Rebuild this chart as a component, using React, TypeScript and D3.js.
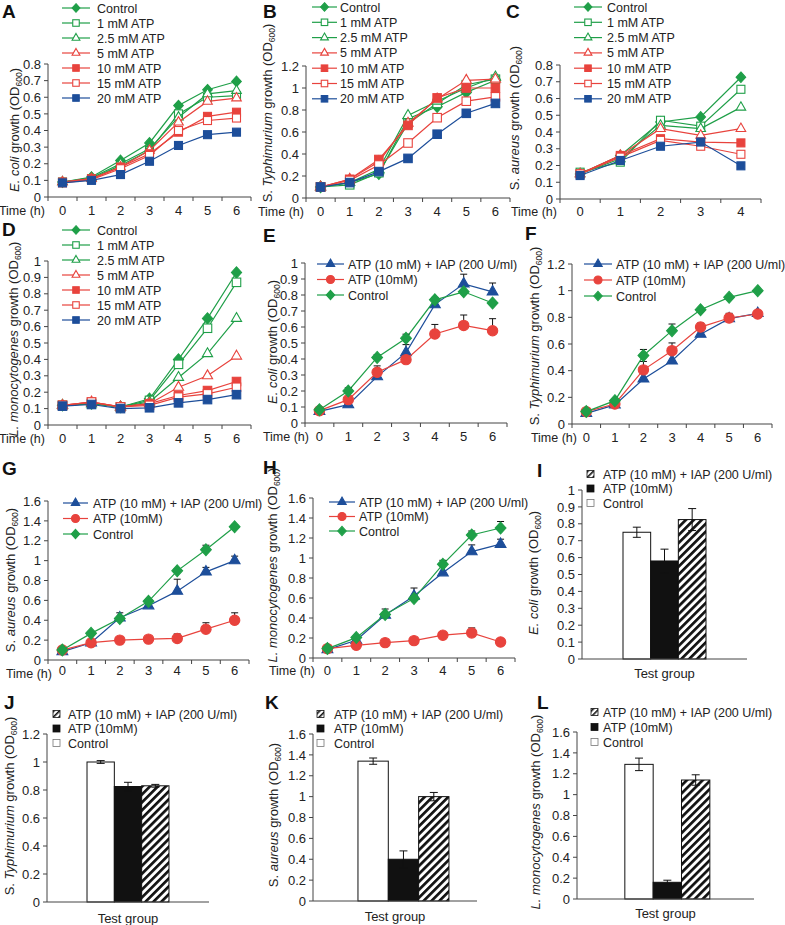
import React from "react";
import * as d3 from "d3";

const FONT = '"Liberation Sans", Arial, Helvetica, sans-serif';
const GREEN = "#1f9f48";
const RED = "#e8433d";
const BLUE = "#1d4e9a";
const AXIS = "#444";
const TXT = "#222";

// ---------- categories / names ----------
const hours7 = ["0", "1", "2", "3", "4", "5", "6"];
const hours5 = ["0", "1", "2", "3", "4"];
const doseNames = ["Control", "1 mM ATP", "2.5 mM ATP", "5 mM ATP", "10 mM ATP", "15 mM ATP", "20 mM ATP"];
const treatNames = ["ATP (10 mM) + IAP (200 U/ml)", "ATP (10mM)", "Control"];
const barOrder = ["Control", "ATP (10mM)", "ATP (10 mM) + IAP (200 U/ml)"];
const testGroup = ["Test group"];

// ---------- A: E. coli, ATP doses ----------
const aControl = [0.09, 0.12, 0.22, 0.325, 0.55, 0.645, 0.695];
const a1mM = [0.09, 0.11, 0.19, 0.28, 0.5, 0.6, 0.61];
const a25mM = [0.09, 0.115, 0.2, 0.29, 0.48, 0.62, 0.64];
const a5mM = [0.09, 0.11, 0.18, 0.28, 0.45, 0.575, 0.595];
const a10mM = [0.09, 0.11, 0.18, 0.26, 0.39, 0.485, 0.51];
const a15mM = [0.085, 0.105, 0.17, 0.25, 0.4, 0.46, 0.475];
const a20mM = [0.085, 0.1, 0.135, 0.215, 0.31, 0.375, 0.39];

// ---------- B: S. Typhimurium, ATP doses ----------
const bControl = [0.1, 0.14, 0.22, 0.72, 0.83, 0.96, 1.07];
const b1mM = [0.1, 0.12, 0.23, 0.68, 0.86, 1.03, 1.08];
const b25mM = [0.1, 0.14, 0.26, 0.75, 0.88, 1.0, 1.1];
const b5mM = [0.1, 0.17, 0.33, 0.68, 0.9, 1.07, 1.08];
const b10mM = [0.1, 0.17, 0.35, 0.66, 0.91, 1.0, 1.0];
const b15mM = [0.1, 0.16, 0.3, 0.5, 0.73, 0.88, 0.92];
const b20mM = [0.1, 0.14, 0.24, 0.36, 0.58, 0.77, 0.86];

// ---------- C: S. aureus, ATP doses ----------
const cControl = [0.15, 0.26, 0.46, 0.49, 0.727];
const c1mM = [0.16, 0.22, 0.47, 0.435, 0.655];
const c25mM = [0.15, 0.24, 0.44, 0.42, 0.547];
const c5mM = [0.15, 0.26, 0.42, 0.38, 0.42];
const c10mM = [0.15, 0.26, 0.36, 0.34, 0.335];
const c15mM = [0.15, 0.25, 0.35, 0.315, 0.267];
const c20mM = [0.14, 0.23, 0.315, 0.34, 0.198];

// ---------- D: L. monocytogenes, ATP doses ----------
const dControl = [0.12, 0.13, 0.11, 0.16, 0.4, 0.65, 0.93];
const d1mM = [0.12, 0.13, 0.11, 0.15, 0.37, 0.59, 0.87];
const d25mM = [0.12, 0.13, 0.11, 0.14, 0.29, 0.435, 0.65];
const d5mM = [0.12, 0.14, 0.11, 0.13, 0.23, 0.3, 0.42];
const d10mM = [0.12, 0.14, 0.11, 0.13, 0.18, 0.21, 0.265];
const d15mM = [0.12, 0.14, 0.11, 0.12, 0.17, 0.19, 0.23];
const d20mM = [0.115, 0.125, 0.1, 0.105, 0.135, 0.155, 0.185];

// ---------- E: E. coli, treatments ----------
const eIap = [0.073, 0.115, 0.29, 0.44, 0.74, 0.87, 0.82];
const eIapErr = [0, 0, 0, 0.05, 0.04, 0.06, 0.055];
const eAtp = [0.077, 0.146, 0.317, 0.396, 0.556, 0.61, 0.577];
const eAtpErr = [0, 0, 0.04, 0, 0.06, 0.065, 0.075];
const eCtrl = [0.083, 0.2, 0.41, 0.53, 0.77, 0.82, 0.75];
const eCtrlErr = [0, 0.02, 0.017, 0.025, 0.015, 0, 0];

// ---------- F: S. Typhimurium, treatments ----------
const fIap = [0.08, 0.143, 0.338, 0.474, 0.674, 0.79, 0.83];
const fIapErr = [0, 0, 0, 0, 0, 0, 0];
const fAtp = [0.093, 0.15, 0.406, 0.55, 0.727, 0.795, 0.825];
const fAtpErr = [0, 0, 0.063, 0.058, 0.03, 0.035, 0.025];
const fCtrl = [0.093, 0.175, 0.514, 0.7, 0.857, 0.95, 1.0];
const fCtrlErr = [0, 0, 0.045, 0.05, 0, 0, 0];

// ---------- G: S. aureus, treatments ----------
const gIap = [0.084, 0.174, 0.425, 0.546, 0.693, 0.887, 1.0];
const gIapErr = [0, 0, 0.05, 0, 0.12, 0.045, 0.045];
const gAtp = [0.1, 0.174, 0.2, 0.21, 0.217, 0.31, 0.4];
const gAtpErr = [0, 0, 0, 0, 0.045, 0.065, 0.075];
const gCtrl = [0.1, 0.268, 0.418, 0.59, 0.897, 1.11, 1.34];
const gCtrlErr = [0, 0, 0, 0, 0.02, 0.045, 0.02];

// ---------- H: L. monocytogenes, treatments ----------
const hIap = [0.084, 0.177, 0.43, 0.62, 0.853, 1.064, 1.138];
const hIapErr = [0, 0, 0.06, 0.08, 0, 0.067, 0.05];
const hAtp = [0.094, 0.127, 0.154, 0.174, 0.228, 0.251, 0.16];
const hAtpErr = [0, 0, 0, 0, 0, 0.05, 0];
const hCtrl = [0.094, 0.204, 0.435, 0.596, 0.937, 1.23, 1.3];
const hCtrlErr = [0, 0, 0, 0, 0.04, 0.04, 0.065];

// ---------- I-L: bars (Control, ATP, ATP+IAP) ----------
const iBars = [0.75, 0.58, 0.825];
const iErr = [0.03, 0.07, 0.065];
const jBars = [1.0, 0.825, 0.83];
const jErr = [0.01, 0.03, 0.01];
const kBars = [1.34, 0.4, 1.0];
const kErr = [0.03, 0.08, 0.04];
const lBars = [1.29, 0.16, 1.14];
const lErr = [0.06, 0.02, 0.05];

// ---------- styles ----------
type Shape = "diamond" | "square" | "triangle" | "circle";
interface SStyle { color: string; shape: Shape; fill: boolean; }
const doseStyle: SStyle[] = [
  { color: GREEN, shape: "diamond", fill: true },
  { color: GREEN, shape: "square", fill: false },
  { color: GREEN, shape: "triangle", fill: false },
  { color: RED, shape: "triangle", fill: false },
  { color: RED, shape: "square", fill: true },
  { color: RED, shape: "square", fill: false },
  { color: BLUE, shape: "square", fill: true },
];
const treatStyle: SStyle[] = [
  { color: BLUE, shape: "triangle", fill: true },
  { color: RED, shape: "circle", fill: true },
  { color: GREEN, shape: "diamond", fill: true },
];

interface LabelPart { t: string; it?: boolean; sub?: boolean; }
const labEcoli: LabelPart[] = [{ t: "E. coli", it: true }, { t: " growth (OD" }, { t: "600", sub: true }, { t: ")" }];
const labTyph: LabelPart[] = [{ t: "S. " }, { t: "Typhimurium", it: true }, { t: " growth (OD" }, { t: "600", sub: true }, { t: ")" }];
const labAureus: LabelPart[] = [{ t: "S. " }, { t: "aureus", it: true }, { t: " growth (OD" }, { t: "600", sub: true }, { t: ")" }];
const labListeria: LabelPart[] = [{ t: "L. monocytogenes", it: true }, { t: " growth (OD" }, { t: "600", sub: true }, { t: ")" }];

function Marker({ shape, x, y, s, color, fill }: { shape: Shape; x: number; y: number; s: number; color: string; fill: boolean }) {
  const f = fill ? color : "#fff";
  const sw = 1.1;
  if (shape === "square") return <rect x={x - s / 2} y={y - s / 2} width={s} height={s} fill={f} stroke={color} strokeWidth={sw} />;
  if (shape === "circle") return <circle cx={x} cy={y} r={s / 2} fill={f} stroke={color} strokeWidth={sw} />;
  if (shape === "diamond") {
    const h = s / 2;
    return <polygon points={`${x},${y - h * 1.1} ${x + h},${y} ${x},${y + h * 1.1} ${x - h},${y}`} fill={f} stroke={color} strokeWidth={sw} />;
  }
  const h = s * 0.87;
  return <polygon points={`${x},${y - (h * 2) / 3} ${x + s / 2},${y + h / 3} ${x - s / 2},${y + h / 3}`} fill={f} stroke={color} strokeWidth={sw} />;
}

function YLabel({ x, y, parts }: { x: number; y: number; parts: LabelPart[] }) {
  const out: React.ReactNode[] = [];
  let shifted = false;
  parts.forEach((p, i) => {
    if (p.sub) {
      out.push(<tspan key={i} fontSize={8.5} dy={3}>{p.t}</tspan>);
      shifted = true;
    } else {
      out.push(
        <tspan key={i} fontStyle={p.it ? "italic" : "normal"} dy={shifted ? -3 : 0}>
          {p.t}
        </tspan>
      );
      shifted = false;
    }
  });
  return (
    <text transform={`translate(${x},${y}) rotate(-90)`} textAnchor="middle" fontSize={13} fill={TXT}>
      {out}
    </text>
  );
}

interface YAx { x0: number; yb: number; yt: number; ymax: number; step: number; }
function YAxis({ x0, yb, yt, ymax, step }: YAx) {
  const y = d3.scaleLinear().domain([0, ymax]).range([yb, yt]);
  const ticks = d3.range(0, ymax + step / 2, step);
  return (
    <g>
      <line x1={x0} x2={x0} y1={yb} y2={yt} stroke={AXIS} strokeWidth={1} />
      {ticks.map((t, i) => (
        <g key={i}>
          <line x1={x0 - 4} x2={x0} y1={y(t)} y2={y(t)} stroke={AXIS} />
          <text x={x0 - 7} y={y(t)} dy="0.36em" textAnchor="end" fontSize={13} fill={TXT}>
            {String(Math.round(t * 10) / 10)}
          </text>
        </g>
      ))}
    </g>
  );
}

interface LineCfg extends YAx {
  letter: string; lx: number; ly: number;
  x1: number; cats: string[];
  series: number[][]; errs?: number[][]; names: string[]; styles: SStyle[];
  ms: number; lms: number;
  leg: { x0: number; x1: number; tx: number; y0: number; dy: number };
  ylab: { x: number; y: number; parts: LabelPart[] };
  time: { x: number; y: number; ty?: number };
}

function LinePanel(c: LineCfg) {
  const x = d3.scaleBand<string>().domain(c.cats).range([c.x0, c.x1]);
  const y = d3.scaleLinear().domain([0, c.ymax]).range([c.yb, c.yt]);
  const cx = (i: number) => (x(c.cats[i]) as number) + x.bandwidth() / 2;
  const line = d3.line<number>().x((_, i) => cx(i)).y((v) => y(v));
  const bounds = c.cats.map((k) => x(k) as number).concat([c.x1]);
  const sz = (st: SStyle, base: number) =>
    st.shape === "diamond" ? base * 1.2 : st.shape === "triangle" ? base * 1.2 : st.shape === "circle" ? base * 1.15 : base;
  return (
    <g fontFamily={FONT}>
      <text x={c.lx} y={c.ly} fontSize={19} fontWeight="bold" fill="#111">{c.letter}</text>
      <YAxis {...c} />
      <line x1={c.x0} x2={c.x1} y1={c.yb} y2={c.yb} stroke={AXIS} />
      {bounds.map((b, i) => (
        <line key={i} x1={b} x2={b} y1={c.yb} y2={c.yb + 4} stroke={AXIS} />
      ))}
      {c.cats.map((k, i) => (
        <text key={k} x={cx(i)} y={c.time.y} textAnchor="middle" fontSize={13} fill={TXT}>{k}</text>
      ))}
      <text x={c.time.x} y={c.time.ty ?? c.time.y} textAnchor="end" fontSize={12.5} fill={TXT}>Time (h)</text>
      <YLabel {...c.ylab} />
      {c.series.map((s, si) => {
        const st = c.styles[si];
        return (
          <g key={si}>
            <path d={line(s) || ""} fill="none" stroke={st.color} strokeWidth={1.2} />
            {c.errs &&
              c.errs[si].map((e, i) =>
                e > 0 ? (
                  <g key={i} stroke="#111" strokeWidth={1}>
                    <line x1={cx(i)} x2={cx(i)} y1={y(s[i])} y2={y(s[i] + e)} />
                    <line x1={cx(i) - 3.5} x2={cx(i) + 3.5} y1={y(s[i] + e)} y2={y(s[i] + e)} />
                  </g>
                ) : null
              )}
            {s.map((v, i) => (
              <Marker key={i} shape={st.shape} x={cx(i)} y={y(v)} s={sz(st, c.ms)} color={st.color} fill={st.fill} />
            ))}
          </g>
        );
      })}
      {c.names.map((n, i) => {
        const st = c.styles[i];
        const ly = c.leg.y0 + i * c.leg.dy;
        return (
          <g key={n}>
            <line x1={c.leg.x0} x2={c.leg.x1} y1={ly} y2={ly} stroke={st.color} strokeWidth={1.2} />
            <Marker shape={st.shape} x={(c.leg.x0 + c.leg.x1) / 2} y={ly} s={sz(st, c.lms)} color={st.color} fill={st.fill} />
            <text x={c.leg.tx} y={ly} dy="0.36em" fontSize={12.5} fill={TXT}>{n}</text>
          </g>
        );
      })}
    </g>
  );
}

interface BarCfg extends YAx {
  letter: string; lx: number; ly: number;
  x1: number; po: number; align: number;
  values: number[]; errs: number[];
  leg: { sx: number; tx: number; y0: number; dy: number };
  ylab: { x: number; y: number; parts: LabelPart[] };
  testY: number;
}

const barFill = ["#fff", "#111", "url(#hatch)"];

function BarPanel(c: BarCfg) {
  const outer = d3.scaleBand<string>().domain(testGroup).range([c.x0, c.x1]).paddingOuter(c.po).align(c.align);
  const inner = d3.scaleBand<string>().domain(barOrder).range([0, outer.bandwidth()]);
  const y = d3.scaleLinear().domain([0, c.ymax]).range([c.yb, c.yt]);
  const gx = outer(testGroup[0]) as number;
  return (
    <g fontFamily={FONT}>
      <text x={c.lx} y={c.ly} fontSize={19} fontWeight="bold" fill="#111">{c.letter}</text>
      <YAxis {...c} />
      {barOrder.map((k, i) => {
        const bx = gx + (inner(k) as number);
        const v = c.values[i];
        const e = c.errs[i];
        const mx = bx + inner.bandwidth() / 2;
        return (
          <g key={k}>
            <rect x={bx} y={y(v)} width={inner.bandwidth()} height={c.yb - y(v)} fill={barFill[i]} stroke="#111" strokeWidth={1} />
            <g stroke="#111" strokeWidth={1}>
              <line x1={mx} x2={mx} y1={y(v - e)} y2={y(v + e)} />
              <line x1={mx - 4} x2={mx + 4} y1={y(v + e)} y2={y(v + e)} />
              <line x1={mx - 4} x2={mx + 4} y1={y(v - e)} y2={y(v - e)} />
            </g>
          </g>
        );
      })}
      <line x1={c.x0} x2={c.x1} y1={c.yb} y2={c.yb} stroke={AXIS} />
      <text x={(c.x0 + c.x1) / 2} y={c.testY} textAnchor="middle" fontSize={13} fill={TXT}>{testGroup[0]}</text>
      <YLabel {...c.ylab} />
      {treatNames.map((n, i) => {
        const ly = c.leg.y0 + i * c.leg.dy;
        const fills = ["url(#hatchS)", "#111", "#fff"];
        return (
          <g key={n}>
            <rect x={c.leg.sx} y={ly - 3.5} width={7} height={7} fill={fills[i]} stroke={i === 2 ? "#777" : "#111"} strokeWidth={0.8} />
            <text x={c.leg.tx} y={ly} dy="0.36em" fontSize={12.5} fill={TXT}>{n}</text>
          </g>
        );
      })}
    </g>
  );
}

const panelsLine: LineCfg[] = [
  {
    letter: "A", lx: 2, ly: 18, x0: 48, x1: 251, yb: 197, yt: 64, ymax: 0.8, step: 0.1, cats: hours7,
    series: [aControl, a1mM, a25mM, a5mM, a10mM, a15mM, a20mM], names: doseNames, styles: doseStyle,
    ms: 8, lms: 6.5, leg: { x0: 62, x1: 90, tx: 97, y0: 8, dy: 15 },
    ylab: { x: 19, y: 130, parts: labEcoli }, time: { x: 45, y: 215 },
  },
  {
    letter: "B", lx: 263, ly: 18, x0: 306, x1: 510, yb: 198, yt: 66, ymax: 1.2, step: 0.2, cats: hours7,
    series: [bControl, b1mM, b25mM, b5mM, b10mM, b15mM, b20mM], names: doseNames, styles: doseStyle,
    ms: 8.5, lms: 6.5, leg: { x0: 312, x1: 337, tx: 340, y0: 7, dy: 15.3 },
    ylab: { x: 272, y: 113, parts: labTyph }, time: { x: 304, y: 216 },
  },
  {
    letter: "C", lx: 506, ly: 18, x0: 560, x1: 761, yb: 199, yt: 65, ymax: 0.8, step: 0.1, cats: hours5,
    series: [cControl, c1mM, c25mM, c5mM, c10mM, c15mM, c20mM], names: doseNames, styles: doseStyle,
    ms: 8, lms: 6.5, leg: { x0: 574, x1: 602, tx: 607, y0: 7, dy: 15.3 },
    ylab: { x: 519, y: 118, parts: labAureus }, time: { x: 557, y: 216 },
  },
  {
    letter: "D", lx: 2, ly: 236, x0: 48, x1: 251, yb: 425, yt: 261, ymax: 1, step: 0.1, cats: hours7,
    series: [dControl, d1mM, d25mM, d5mM, d10mM, d15mM, d20mM], names: doseNames, styles: doseStyle,
    ms: 8.5, lms: 6.5, leg: { x0: 62, x1: 90, tx: 97, y0: 230, dy: 15 },
    ylab: { x: 18, y: 339, parts: labListeria }, time: { x: 45, y: 443 },
  },
  {
    letter: "E", lx: 263, ly: 242, x0: 305, x1: 507, yb: 423, yt: 263, ymax: 1, step: 0.1, cats: hours7,
    series: [eIap, eAtp, eCtrl], errs: [eIapErr, eAtpErr, eCtrlErr], names: treatNames, styles: treatStyle,
    ms: 9, lms: 7, leg: { x0: 317, x1: 344, tx: 348, y0: 264, dy: 15.5 },
    ylab: { x: 277, y: 342, parts: labEcoli }, time: { x: 309, y: 441 },
  },
  {
    letter: "F", lx: 525, ly: 240, x0: 572, x1: 772, yb: 424, yt: 264, ymax: 1.2, step: 0.2, cats: hours7,
    series: [fIap, fAtp, fCtrl], errs: [fIapErr, fAtpErr, fCtrlErr], names: treatNames, styles: treatStyle,
    ms: 9, lms: 7, leg: { x0: 584, x1: 612, tx: 616, y0: 264, dy: 16 },
    ylab: { x: 539, y: 336, parts: labTyph }, time: { x: 577, y: 442 },
  },
  {
    letter: "G", lx: 2, ly: 475, x0: 48, x1: 249, yb: 660, yt: 501, ymax: 1.6, step: 0.2, cats: hours7,
    series: [gIap, gAtp, gCtrl], errs: [gIapErr, gAtpErr, gCtrlErr], names: treatNames, styles: treatStyle,
    ms: 9, lms: 7, leg: { x0: 63, x1: 88, tx: 93, y0: 503, dy: 15.5 },
    ylab: { x: 15, y: 580, parts: labAureus }, time: { x: 52, y: 675, ty: 678 },
  },
  {
    letter: "H", lx: 263, ly: 474, x0: 313, x1: 515, yb: 658, yt: 498, ymax: 1.6, step: 0.2, cats: hours7,
    series: [hIap, hAtp, hCtrl], errs: [hIapErr, hAtpErr, hCtrlErr], names: treatNames, styles: treatStyle,
    ms: 9, lms: 7, leg: { x0: 329, x1: 355, tx: 359, y0: 502, dy: 14.5 },
    ylab: { x: 277, y: 565, parts: labListeria }, time: { x: 315, y: 675 },
  },
];

const panelsBar: BarCfg[] = [
  {
    letter: "I", lx: 537, ly: 477, x0: 582, x1: 747, yb: 659, yt: 490, ymax: 1, step: 0.1, po: 0.494, align: 0.5,
    values: iBars, errs: iErr, leg: { sx: 587, tx: 603, y0: 474, dy: 14.5 },
    ylab: { x: 538, y: 573, parts: labEcoli }, testY: 678,
  },
  {
    letter: "J", lx: 4, ly: 709, x0: 47, x1: 209, yb: 902, yt: 734, ymax: 1.2, step: 0.2, po: 0.488, align: 0.5,
    values: jBars, errs: jErr, leg: { sx: 53, tx: 68, y0: 714, dy: 14.5 },
    ylab: { x: 14, y: 806, parts: labTyph }, testY: 923,
  },
  {
    letter: "K", lx: 265, ly: 709, x0: 313, x1: 477, yb: 901, yt: 734, ymax: 1.6, step: 0.2, po: 0.401, align: 0.616,
    values: kBars, errs: kErr, leg: { sx: 317, tx: 334, y0: 714, dy: 14.5 },
    ylab: { x: 278, y: 815, parts: labAureus }, testY: 921,
  },
  {
    letter: "L", lx: 537, ly: 709, x0: 577, x1: 754, yb: 899, yt: 732, ymax: 1.6, step: 0.2, po: 0.541, align: 0.52,
    values: lBars, errs: lErr, leg: { sx: 591, tx: 603, y0: 712, dy: 15 },
    ylab: { x: 540, y: 812, parts: labListeria }, testY: 918,
  },
];

export default function App() {
  return (
    <svg
      width={785}
      height={925}
      viewBox="0 0 785 925"
      style={{ position: "absolute", left: 0, top: 0, background: "#fff" }}
      fontFamily={FONT}
    >
      <defs>
        <pattern id="hatch" patternUnits="userSpaceOnUse" width={5.6} height={5.6} patternTransform="rotate(45)">
          <rect width={5.6} height={5.6} fill="#fff" />
          <rect width={2.7} height={5.6} fill="#111" />
        </pattern>
        <pattern id="hatchS" patternUnits="userSpaceOnUse" width={4} height={4} patternTransform="rotate(45)">
          <rect width={4} height={4} fill="#fff" />
          <rect width={1.6} height={4} fill="#111" />
        </pattern>
      </defs>
      <rect width={785} height={925} fill="#fff" />
      {panelsLine.map((p) => (
        <LinePanel key={p.letter} {...p} />
      ))}
      {panelsBar.map((p) => (
        <BarPanel key={p.letter} {...p} />
      ))}
    </svg>
  );
}
